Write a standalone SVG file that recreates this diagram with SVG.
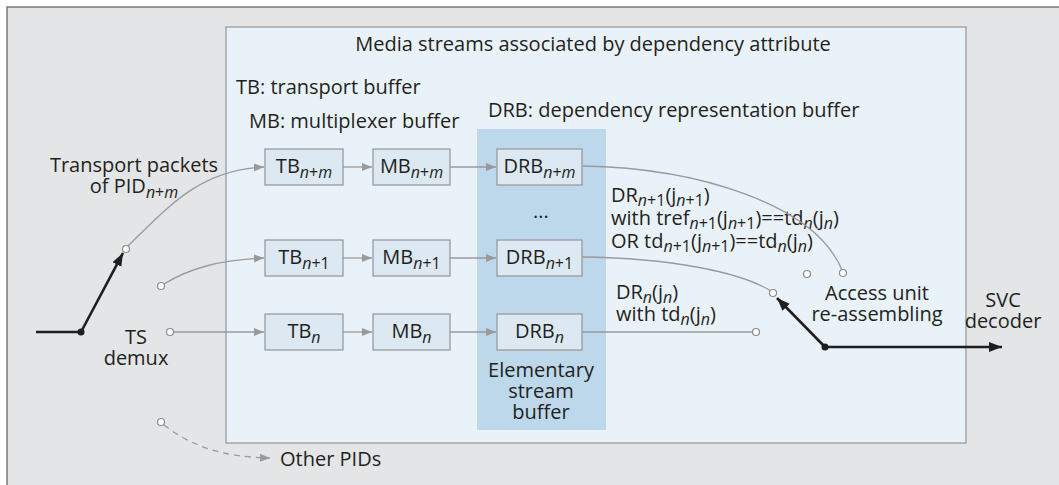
<svg xmlns="http://www.w3.org/2000/svg" width="1059" height="485" viewBox="0 0 1059 485">
  <style>
    text { font-family: "Open Sans", "Noto Sans", "DejaVu Sans", sans-serif; font-size: 20px; fill: #231f20; }
    .c { text-anchor: middle; }
    .s { font-size: 16px; }
    .i { font-style: italic; }
    .box { fill: #dce9f3; stroke: #9a9a9a; stroke-width: 1.3; }
    .ln { fill: none; stroke: #9a9a9a; stroke-width: 1.3; }
    .dash { stroke-dasharray: 6 5; }
    .sw { fill: none; stroke: #1e1e1e; stroke-width: 2.6; }
    .pin { fill: #ffffff; stroke: #8a8a8a; stroke-width: 1.2; }
  </style>
  <defs>
    <marker id="ga" markerUnits="userSpaceOnUse" markerWidth="12" markerHeight="10" refX="10" refY="4" orient="auto">
      <path d="M0,0 L10,4 L0,8 z" fill="#9a9a9a"/>
    </marker>
    <marker id="ka" markerUnits="userSpaceOnUse" markerWidth="16" markerHeight="12" refX="13" refY="5" orient="auto">
      <path d="M0,0 L13,5 L0,10 z" fill="#1e1e1e"/>
    </marker>
  </defs>

  <!-- background frame -->
  <rect x="0" y="0" width="1059" height="485" fill="#ffffff"/>
  <rect x="7" y="7" width="1060" height="490" fill="#e4e5e7" stroke="#7a7a7a" stroke-width="1.5"/>

  <!-- media stream area -->
  <g id="media-area">
    <rect x="226" y="27" width="740" height="416" fill="#eaf2f9" stroke="#9a9a9a" stroke-width="1.3"/>
    <text class="c" x="593" y="51">Media streams associated by dependency attribute</text>
    <text x="236" y="94">TB: transport buffer</text>
    <text x="249" y="128">MB: multiplexer buffer</text>
    <text x="488" y="117">DRB: dependency representation buffer</text>
  </g>

  <!-- elementary stream buffer column -->
  <g id="es-buffer">
    <rect x="477" y="129" width="129" height="301" fill="#bcd8ea"/>
    <text class="c" x="541" y="218">...</text>
    <text class="c" x="541" y="377">Elementary</text>
    <text class="c" x="541" y="398">stream</text>
    <text class="c" x="541" y="419">buffer</text>
  </g>

  <!-- buffer nodes -->
  <g id="tb-nm"><rect class="box" x="265" y="149" width="78" height="36"/>
    <text class="c" x="304" y="173">TB<tspan class="s" dy="5"><tspan class="i">n</tspan>+<tspan class="i">m</tspan></tspan></text></g>
  <g id="mb-nm"><rect class="box" x="373" y="149" width="77" height="36"/>
    <text class="c" x="411.5" y="173">MB<tspan class="s" dy="5"><tspan class="i">n</tspan>+<tspan class="i">m</tspan></tspan></text></g>
  <g id="drb-nm"><rect class="box" x="497" y="149" width="85" height="36"/>
    <text class="c" x="539.5" y="173">DRB<tspan class="s" dy="5"><tspan class="i">n</tspan>+<tspan class="i">m</tspan></tspan></text></g>

  <g id="tb-n1"><rect class="box" x="265" y="240" width="78" height="36"/>
    <text class="c" x="304" y="264">TB<tspan class="s" dy="5"><tspan class="i">n</tspan>+1</tspan></text></g>
  <g id="mb-n1"><rect class="box" x="373" y="240" width="77" height="36"/>
    <text class="c" x="411.5" y="264">MB<tspan class="s" dy="5"><tspan class="i">n</tspan>+1</tspan></text></g>
  <g id="drb-n1"><rect class="box" x="497" y="240" width="85" height="36"/>
    <text class="c" x="539.5" y="264">DRB<tspan class="s" dy="5"><tspan class="i">n</tspan>+1</tspan></text></g>

  <g id="tb-n"><rect class="box" x="265" y="314" width="78" height="36"/>
    <text class="c" x="304" y="338">TB<tspan class="s i" dy="5">n</tspan></text></g>
  <g id="mb-n"><rect class="box" x="373" y="314" width="77" height="36"/>
    <text class="c" x="411.5" y="338">MB<tspan class="s i" dy="5">n</tspan></text></g>
  <g id="drb-n"><rect class="box" x="497" y="314" width="85" height="36"/>
    <text class="c" x="539.5" y="338">DRB<tspan class="s i" dy="5">n</tspan></text></g>

  <!-- demultiplexer -->
  <g id="ts-demux">
    <text class="c" x="134" y="172">Transport packets</text>
    <text class="c" x="134" y="193">of PID<tspan class="s" dy="5"><tspan class="i">n</tspan>+<tspan class="i">m</tspan></tspan></text>
    <text class="c" x="136" y="344">TS</text>
    <text class="c" x="136" y="365">demux</text>
  </g>

  <!-- re-assembly and decoder -->
  <g id="au-reassembly">
    <text class="c" x="877" y="300">Access unit</text>
    <text class="c" x="877" y="321">re-assembling</text>
  </g>
  <g id="svc-decoder">
    <text class="c" x="1003" y="307">SVC</text>
    <text class="c" x="1003" y="328">decoder</text>
  </g>

  <!-- condition labels -->
  <g id="labels">
    <text x="611" y="202">DR<tspan class="s" dy="4"><tspan class="i">n</tspan>+1</tspan><tspan dy="-4">(j</tspan><tspan class="s" dy="4"><tspan class="i">n</tspan>+1</tspan><tspan dy="-4">)</tspan></text>
    <text x="611" y="225">with tref<tspan class="s" dy="4"><tspan class="i">n</tspan>+1</tspan><tspan dy="-4">(j</tspan><tspan class="s" dy="4"><tspan class="i">n</tspan>+1</tspan><tspan dy="-4">)==td</tspan><tspan class="s i" dy="4">n</tspan><tspan dy="-4">(j</tspan><tspan class="s i" dy="4">n</tspan><tspan dy="-4">)</tspan></text>
    <text x="611" y="248">OR td<tspan class="s" dy="4"><tspan class="i">n</tspan>+1</tspan><tspan dy="-4">(j</tspan><tspan class="s" dy="4"><tspan class="i">n</tspan>+1</tspan><tspan dy="-4">)==td</tspan><tspan class="s i" dy="4">n</tspan><tspan dy="-4">(j</tspan><tspan class="s i" dy="4">n</tspan><tspan dy="-4">)</tspan></text>
    <text x="616" y="299">DR<tspan class="s i" dy="4">n</tspan><tspan dy="-4">(j</tspan><tspan class="s i" dy="4">n</tspan><tspan dy="-4">)</tspan></text>
    <text x="616" y="321">with td<tspan class="s i" dy="4">n</tspan><tspan dy="-4">(j</tspan><tspan class="s i" dy="4">n</tspan><tspan dy="-4">)</tspan></text>
    <text x="280" y="466">Other PIDs</text>
  </g>

  <!-- connectors -->
  <g id="connectors">
    <path class="ln" d="M128,246 C170,205 200,170 264,167" marker-end="url(#ga)"/>
    <path class="ln" d="M164,284 C190,268 220,260 264,258" marker-end="url(#ga)"/>
    <path class="ln" d="M173,332 L264,332" marker-end="url(#ga)"/>
    <path class="ln dash" d="M164,425 C190,445 220,457 270,458" marker-end="url(#ga)"/>

    <path class="ln" d="M343,167 L372,167" marker-end="url(#ga)"/>
    <path class="ln" d="M450,167 L496,167" marker-end="url(#ga)"/>
    <path class="ln" d="M343,258 L372,258" marker-end="url(#ga)"/>
    <path class="ln" d="M450,258 L496,258" marker-end="url(#ga)"/>
    <path class="ln" d="M343,332 L372,332" marker-end="url(#ga)"/>
    <path class="ln" d="M450,332 L496,332" marker-end="url(#ga)"/>

    <path class="ln" d="M582,166 C700,168 815,205 842,270"/>
    <path class="ln" d="M582,257 C670,258 740,272 771,291"/>
    <path class="ln" d="M582,332 L753,332"/>

    <!-- input switch -->
    <path class="sw" d="M36,332 L81,332"/>
    <path class="sw" d="M81,332 L123,253" marker-end="url(#ka)"/>
    <circle cx="81" cy="332" r="3.5" fill="#1e1e1e"/>

    <!-- output switch -->
    <path class="sw" d="M825,347 L777,298" marker-end="url(#ka)"/>
    <path class="sw" d="M825,347 L1002,347" marker-end="url(#ka)"/>
    <circle cx="825" cy="347" r="3.5" fill="#1e1e1e"/>

    <!-- switch contacts -->
    <circle class="pin" cx="126" cy="249" r="3.5"/>
    <circle class="pin" cx="161" cy="286" r="3.5"/>
    <circle class="pin" cx="170" cy="332" r="3.5"/>
    <circle class="pin" cx="161" cy="422" r="3.5"/>
    <circle class="pin" cx="843" cy="273" r="3.5"/>
    <circle class="pin" cx="807" cy="274" r="3.5"/>
    <circle class="pin" cx="773" cy="293" r="3.5"/>
    <circle class="pin" cx="756" cy="332" r="3.5"/>
  </g>
</svg>
